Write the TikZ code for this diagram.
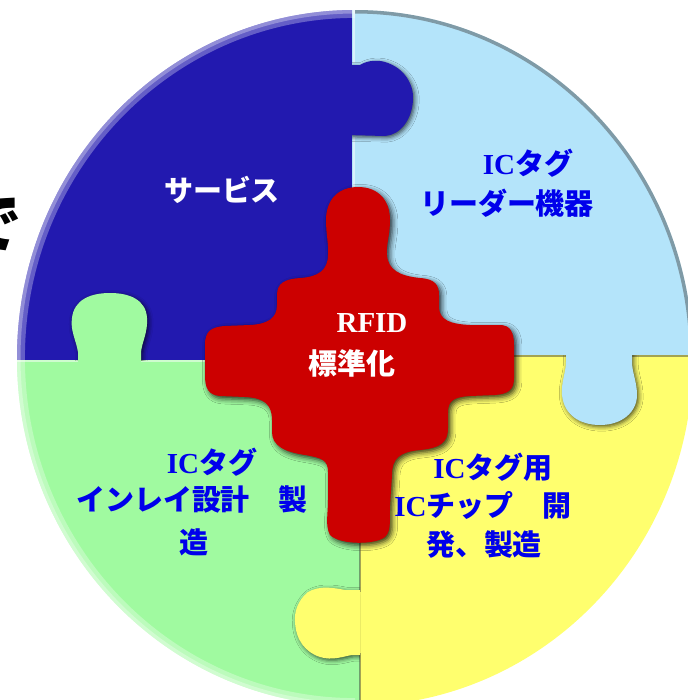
\documentclass[tikz,border=0pt]{standalone}
\usepackage{fontspec}
\newfontfamily\jp{Noto Sans CJK JP}
\newfontfamily\lat{Liberation Serif}
\usetikzlibrary{calc}
\usetikzlibrary{positioning}
\usetikzlibrary{shadows,shadows.blur}

\definecolor{svcblue}{RGB}{34,25,175}
\definecolor{rdrblue}{RGB}{180,228,250}
\definecolor{inlgreen}{RGB}{160,250,160}
\definecolor{chipyellow}{RGB}{255,255,110}
\definecolor{stdred}{RGB}{204,0,0}
\definecolor{lblblue}{RGB}{0,0,235}

\tikzset{
  knob/.style={blur shadow={shadow xshift=1pt,shadow yshift=-1pt,shadow blur radius=2.5pt,shadow opacity=70}},
  lbl/.style={font=\fontsize{16.5}{20}\selectfont\bfseries\jp,inner sep=0pt,text=lblblue},
  wlbl/.style={lbl,text=white},
}

\begin{document}
\begin{tikzpicture}[x=0.02cm,y=-0.02cm]
		\useasboundingbox (0,0) rectangle (688,700);
		\clip (0,0) rectangle (688,700);
		% cut-off word on the left
		\node[font=\fontsize{37}{40}\selectfont\bfseries\jp,inner sep=0pt] (de) at (-10,224) {で};
		\begin{scope}
			\clip (355,358) ellipse [x radius=338, y radius=348];
			% four quarters
			\fill[svcblue] (0,0) rectangle (352,360);
			\fill[rdrblue] (352,0) rectangle (700,355);
			\fill[inlgreen] (0,360) rectangle (360,710);
			\fill[chipyellow] (360,355) rectangle (700,710);
			% seams
			\draw[black!80,opacity=.45,line width=1.5pt] (360,358) -- (360,592) (360,653) -- (360,700);
			\draw[black!80,opacity=.45,line width=1.5pt] (360,356) -- (566,356) (632,356) -- (700,356);
			\draw[white,opacity=.5,line width=1pt] (354,0) -- (354,63) (354,137) -- (354,190);
			\draw[white,opacity=.5,line width=1pt] (0,361) -- (78,361) (141,361) -- (270,361);
			% tabs
			\begin{scope}
				\clip (352,0) rectangle (700,355);
				\fill[svcblue,knob] (346,65) -- (360,65) .. controls (368,60) and (378,60) .. (385,62) .. controls (405,68) and (414,85) .. (413,100) .. controls (412,120) and (400,135) .. (385,136) -- (346,135) -- cycle;
			\end{scope}
			\begin{scope}
				\clip (0,0) rectangle (352,360);
				\fill[inlgreen,knob] (78,366) -- (78,352) .. controls (76,340) and (70,330) .. (72,318) .. controls (74,300) and (90,293) .. (110,293) .. controls (130,293) and (146,300) .. (147,318) .. controls (148,332) and (142,342) .. (141,352) -- (141,366) -- cycle;
			\end{scope}
			\begin{scope}
				\clip (360,355) rectangle (700,710);
				\fill[rdrblue,knob] (566,349) -- (566,362) .. controls (566,372) and (561,382) .. (562,395) .. controls (564,415) and (580,425) .. (600,425) .. controls (622,425) and (637,412) .. (637,395) .. controls (637,382) and (632,372) .. (632,362) -- (632,349) -- cycle;
			\end{scope}
			\begin{scope}
				\clip (0,360) rectangle (360,710);
				\fill[chipyellow,knob] (366,590) -- (345,590) .. controls (335,588) and (320,585) .. (308,592) .. controls (298,600) and (294,612) .. (295,622) .. controls (296,640) and (305,652) .. (320,657) .. controls (332,661) and (345,656) .. (352,655) -- (366,655) -- cycle;
			\end{scope}
			% rim
			\begin{scope}
				\clip (0,0) rectangle (355,700);
				\draw[white,opacity=.3,line width=9pt] (355,358) ellipse [x radius=338, y radius=348];
				\draw[white,opacity=.3,line width=4pt] (355,358) ellipse [x radius=338, y radius=348];
			\end{scope}
			\begin{scope}
				\clip (355,0) rectangle (700,355);
				\draw[black!75,opacity=.45,line width=4pt] (355,358) ellipse [x radius=338, y radius=348];
			\end{scope}
			% centre piece
			\fill[stdred,blur shadow={shadow xshift=1.5pt,shadow yshift=-1.5pt,shadow blur radius=3pt,shadow opacity=80}]
				(358,187) .. controls (378,187) and (390,200) .. (390,220)
				.. controls (390,235) and (386,245) .. (387,255)
				.. controls (388,270) and (400,276) .. (420,278) .. controls (435,279) and (439,285) .. (439,295)
				-- (439,308) .. controls (440,320) and (450,324) .. (470,325)
				-- (500,325) .. controls (510,325) and (514,332) .. (514,345)
				-- (514,378) .. controls (514,390) and (508,394) .. (495,395)
				-- (470,396) .. controls (455,397) and (448,400) .. (448,412)
				-- (448,428) .. controls (448,443) and (440,448) .. (420,450) .. controls (400,452) and (392,458) .. (392,475)
				-- (390,505) .. controls (389,520) and (392,530) .. (385,537)
				.. controls (375,545) and (340,545) .. (330,535)
				.. controls (325,525) and (328,515) .. (328,500) -- (328,472)
				.. controls (328,460) and (322,458) .. (305,455) .. controls (285,452) and (272,446) .. (272,432)
				-- (272,420) .. controls (272,405) and (265,398) .. (245,397)
				-- (220,396) .. controls (208,395) and (205,388) .. (205,375)
				-- (205,345) .. controls (205,332) and (210,327) .. (225,326)
				-- (250,325) .. controls (268,324) and (277,318) .. (277,305)
				-- (277,295) .. controls (277,283) and (285,279) .. (300,278) .. controls (318,277) and (328,270) .. (328,255)
				.. controls (329,245) and (326,235) .. (326,220)
				.. controls (326,200) and (338,187) .. cycle;
		\end{scope}
		% labels
		\node[wlbl] (svc) at (222,190) {サービス};
		\node[lbl] (rdr1) at (528,163) {{\lat IC}タグ};
		\node[lbl] (rdr2) at (507,203) {リーダー機器};
		\node[wlbl] (rfid) at (372,323) {\lat RFID};
		\node[wlbl] (std) at (352,363) {標準化};
		\node[lbl] (inl1) at (212,462) {{\lat IC}タグ};
		\node[lbl] (inl2) at (192,500) {インレイ設計　製};
		\node[lbl] (inl3) at (194,542) {造};
		\node[lbl] (chip1) at (493,467) {{\lat IC}タグ用};
		\node[lbl] (chip2) at (483,505) {{\lat IC}チップ　開};
		\node[lbl] (chip3) at (484,545) {発、製造};
\end{tikzpicture}
\end{document}
